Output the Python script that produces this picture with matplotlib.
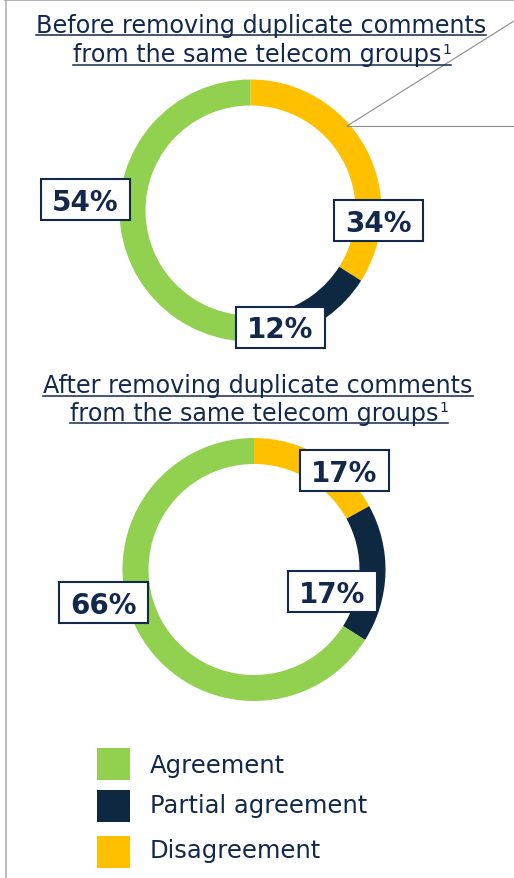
import matplotlib.pyplot as plt
from matplotlib.patches import Rectangle

# data
categories = ['Agreement', 'Partial agreement', 'Disagreement']
colors = ['#92D050', '#0E2841', '#FFC000']
before = [54, 12, 34]
after = [66, 17, 17]
title_before = ['Before removing duplicate comments', 'from the same telecom groups']
title_after = ['After removing duplicate comments', 'from the same telecom groups']

NAVY = '#13294B'
W, H = 514, 879

fig = plt.figure(figsize=(W / 100, H / 100), dpi=100)
ax = fig.add_axes([0, 0, 1, 1])


def Y(y):
    # pixel-from-top -> data y
    return H - y


def donut(vals, cx, cy, rad):
    # clockwise from 12 o'clock: disagreement, partial, agreement
    order = [2, 1, 0]
    ax.pie([vals[i] for i in order], colors=[colors[i] for i in order],
           startangle=90, counterclock=False, radius=rad,
           center=(cx, Y(cy)), wedgeprops=dict(width=26, linewidth=0))


def label(v, x, y):
    ax.add_patch(Rectangle((x - 44.5, Y(y) - 20.5), 89, 41, facecolor='white',
                           edgecolor=NAVY, lw=1.5, zorder=3))
    ax.text(x, Y(y + 10.3), f'{v}%', ha='center', va='baseline', fontsize=20,
            fontweight='bold', color=NAVY, zorder=4)


def title(lines, x, baselines, unders, r):
    # called once limits are final, so display px == data units
    for i, (s, b, u) in enumerate(zip(lines, baselines, unders)):
        last = i == len(lines) - 1
        t = ax.text(x - (3.5 if last else 0), Y(b), s, ha='center', va='baseline',
                    fontsize=17.2, color=NAVY)
        ext = t.get_window_extent(r)
        x1 = ext.x1
        if last:
            sup = ax.text(ext.x1 + 0.5, Y(b - 8.5), '1', ha='left', va='baseline',
                          fontsize=10, color=NAVY)
            x1 = sup.get_window_extent(r).x1
        ax.plot([ext.x0, x1], [Y(u), Y(u)], color=NAVY, lw=1.1)


# frame
ax.plot([5.5, 5.5], [0, H], color='#BFBFBF', lw=1.5)
ax.plot([5, W], [Y(0.5), Y(0.5)], color='#A6A6A6', lw=1.2)

# top donut
donut(before, 250.5, 211.5, 131)
ax.plot([347, W], [Y(127), Y(22)], color='#8C8C8C', lw=0.8)
ax.plot([347, W], [Y(127), Y(127)], color='#8C8C8C', lw=0.8)
label(before[0], 85.5, 200.5)
label(before[2], 378, 221.5)
label(before[1], 280.5, 328)

# bottom donut
donut(after, 254, 570.5, 131.5)
label(after[0], 103, 603.5)
label(after[2], 344.5, 471.5)
label(after[1], 332, 592.5)

# legend
sq_top = [749, 791, 837]
txt_base = [773, 813, 858]
for cat, c, t, b in zip(categories, colors, sq_top, txt_base):
    ax.add_patch(Rectangle((97, Y(t) - 32), 33, 32, facecolor=c, lw=0))
    ax.text(150, Y(b), cat, ha='left', va='baseline', fontsize=17.5, color=NAVY)

ax.set_xlim(0, W)
ax.set_ylim(0, H)
ax.set_aspect('auto')
ax.axis('off')

r = fig.canvas.get_renderer()
title(title_before, 261, [33, 62], [35.5, 66], r)
title(title_after, 258, [392.5, 421], [397, 424], r)
ax.set_xlim(0, W)
ax.set_ylim(0, H)

fig.savefig('out.png', dpi=100)
